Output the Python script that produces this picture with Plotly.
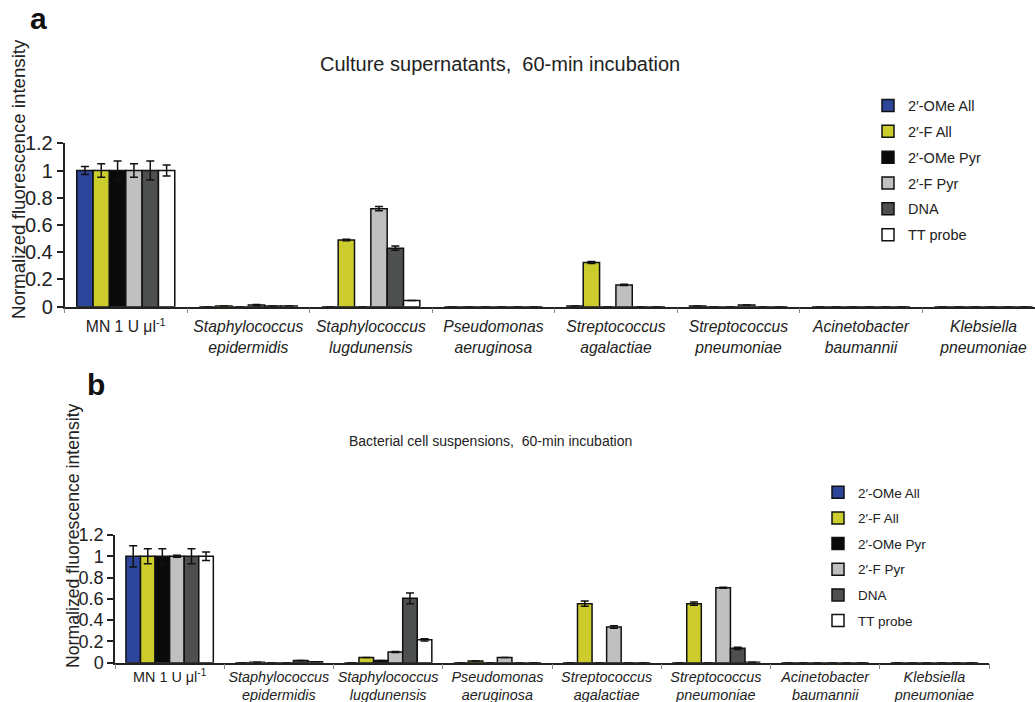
import plotly.graph_objects as go

categories = [
    "MN 1 U μl<sup>-1</sup>",
    "<i>Staphylococcus</i><br><i>epidermidis</i>",
    "<i>Staphylococcus</i><br><i>lugdunensis</i>",
    "<i>Pseudomonas</i><br><i>aeruginosa</i>",
    "<i>Streptococcus</i><br><i>agalactiae</i>",
    "<i>Streptococcus</i><br><i>pneumoniae</i>",
    "<i>Acinetobacter</i><br><i>baumannii</i>",
    "<i>Klebsiella</i><br><i>pneumoniae</i>",
]
series_names = ["2′-OMe All", "2′-F All", "2′-OMe Pyr", "2′-F Pyr", "DNA", "TT probe"]
series_colors = ["#2E459C", "#CCCC2C", "#0A0A0A", "#C0C0C0", "#4E504F", "#FFFFFF"]

# Panel a: culture supernatants
a_ome_all = [1.0, 0.0, 0.0, 0.0, 0.005, 0.005, 0.0, 0.0]
a_f_all = [1.0, 0.005, 0.49, 0.0, 0.325, 0.0, 0.0, 0.0]
a_ome_pyr = [1.0, 0.0, 0.0, 0.0, 0.0, 0.0, 0.0, 0.0]
a_f_pyr = [1.0, 0.012, 0.72, 0.0, 0.16, 0.012, 0.0, 0.0]
a_dna = [1.0, 0.005, 0.43, 0.0, 0.0, 0.0, 0.0, 0.0]
a_tt = [1.0, 0.005, 0.045, 0.0, 0.0, 0.0, 0.0, 0.0]
a_ome_all_err = [0.03, 0, 0, 0, 0, 0, 0, 0]
a_f_all_err = [0.05, 0, 0.005, 0, 0.007, 0, 0, 0]
a_ome_pyr_err = [0.07, 0, 0, 0, 0, 0, 0, 0]
a_f_pyr_err = [0.05, 0.005, 0.015, 0, 0.005, 0, 0, 0]
a_dna_err = [0.07, 0, 0.015, 0, 0, 0, 0, 0]
a_tt_err = [0.04, 0, 0, 0, 0, 0, 0, 0]

# Panel b: bacterial cell suspensions
b_ome_all = [1.0, 0.0, 0.0, 0.0, 0.0, 0.0, 0.0, 0.0]
b_f_all = [1.0, 0.005, 0.05, 0.015, 0.555, 0.555, 0.0, 0.0]
b_ome_pyr = [1.0, 0.0, 0.02, 0.0, 0.0, 0.0, 0.0, 0.0]
b_f_pyr = [1.0, 0.0, 0.10, 0.05, 0.335, 0.705, 0.0, 0.0]
b_dna = [1.0, 0.02, 0.605, 0.0, 0.0, 0.135, 0.0, 0.0]
b_tt = [1.0, 0.01, 0.215, 0.0, 0.0, 0.005, 0.0, 0.0]
b_ome_all_err = [0.10, 0, 0, 0, 0, 0, 0, 0]
b_f_all_err = [0.07, 0, 0, 0, 0.025, 0.015, 0, 0]
b_ome_pyr_err = [0.07, 0, 0, 0, 0, 0, 0, 0]
b_f_pyr_err = [0.01, 0, 0.005, 0, 0.012, 0.005, 0, 0]
b_dna_err = [0.07, 0, 0.05, 0, 0, 0.01, 0, 0]
b_tt_err = [0.04, 0, 0.01, 0, 0, 0, 0, 0]

panel_a = [a_ome_all, a_f_all, a_ome_pyr, a_f_pyr, a_dna, a_tt]
panel_a_err = [a_ome_all_err, a_f_all_err, a_ome_pyr_err, a_f_pyr_err, a_dna_err, a_tt_err]
panel_b = [b_ome_all, b_f_all, b_ome_pyr, b_f_pyr, b_dna, b_tt]
panel_b_err = [b_ome_all_err, b_f_all_err, b_ome_pyr_err, b_f_pyr_err, b_dna_err, b_tt_err]

y_ticks = [0, 0.2, 0.4, 0.6, 0.8, 1, 1.2]
y_tick_text = ["0", "0.2", "0.4", "0.6", "0.8", "1", "1.2"]
y_title = "Normalized fluorescence intensity"
title_a = "Culture supernatants,  60-min incubation"
title_b = "Bacterial cell suspensions,  60-min incubation"

FONT = "Liberation Sans, Arial, sans-serif"
W, H = 1035, 702

fig = go.Figure()

for i, name in enumerate(series_names):
    fig.add_trace(go.Bar(
        x=categories, y=panel_a[i], name=name,
        marker=dict(color=series_colors[i], line=dict(color="#111111", width=1.5)),
        error_y=dict(type="data", array=panel_a_err[i], color="#111111", thickness=1.5, width=4),
        xaxis="x", yaxis="y", legend="legend", legendgroup="a" + str(i),
    ))
for i, name in enumerate(series_names):
    fig.add_trace(go.Bar(
        x=categories, y=panel_b[i], name=name,
        marker=dict(color=series_colors[i], line=dict(color="#111111", width=1.5)),
        error_y=dict(type="data", array=panel_b_err[i], color="#111111", thickness=1.5, width=4),
        xaxis="x2", yaxis="y2", legend="legend2", legendgroup="b" + str(i),
    ))


def px_x(p):
    return p / W


def px_y(p):
    return 1 - p / H


axis_common = dict(
    showline=True, linecolor="#222222", linewidth=1.5, showgrid=False, zeroline=False,
    automargin=False,
)


def ann(text, x, y, size, bold=False, angle=0):
    return dict(text=("<b>%s</b>" % text) if bold else text, x=px_x(x), y=px_y(y),
                xref="paper", yref="paper", xanchor="center", yanchor="middle",
                showarrow=False, textangle=angle,
                font=dict(family=FONT, size=size, color="#111111" if bold else "#222222"))


fig.update_layout(
    template="none",
    xaxis=dict(
        domain=[px_x(64.5), 1.0], anchor="y", type="category",
        range=[-0.5, 7.42], ticks="outside", ticklen=5, tickcolor="#888888",
        tickson="boundaries", tickangle=0, ticklabelstandoff=5,
        tickfont=dict(family=FONT, size=15.7, color="#222222"),
        **axis_common,
    ),
    yaxis=dict(
        domain=[px_y(306.7), px_y(143.3)], anchor="x", range=[0, 1.2],
        tickvals=y_ticks, ticktext=y_tick_text, ticks="outside", ticklen=6,
        tickcolor="#222222", tickwidth=1.5,
        tickfont=dict(family=FONT, size=20, color="#222222"),
        **axis_common,
    ),
    xaxis2=dict(
        domain=[px_x(115), px_x(989)], anchor="y2", type="category",
        range=[-0.5, 7.5], ticks="outside", ticklen=5, tickcolor="#888888",
        tickson="boundaries", tickangle=0,
        tickfont=dict(family=FONT, size=14.4, color="#222222"),
        **axis_common,
    ),
    yaxis2=dict(
        domain=[px_y(662.7), px_y(535)], anchor="x2", range=[0, 1.2],
        tickvals=y_ticks, ticktext=y_tick_text, ticks="outside", ticklen=6,
        tickcolor="#222222", tickwidth=1.5,
        tickfont=dict(family=FONT, size=18, color="#222222"),
        **axis_common,
    ),
    barmode="group", bargap=0.2, bargroupgap=0.0,
    width=W, height=H,
    margin=dict(l=0, r=0, t=0, b=0, pad=0),
    paper_bgcolor="white", plot_bgcolor="white",
    font=dict(family=FONT, color="#222222"),
    legend=dict(
        x=px_x(868), y=px_y(89.5), xanchor="left", yanchor="top",
        font=dict(family=FONT, size=14.5, color="#222222"),
        tracegroupgap=4, itemwidth=30, bgcolor="rgba(0,0,0,0)",
    ),
    legend2=dict(
        x=px_x(818), y=px_y(477), xanchor="left", yanchor="top",
        font=dict(family=FONT, size=13.5, color="#222222"),
        tracegroupgap=5.1, itemwidth=30, bgcolor="rgba(0,0,0,0)",
    ),
    annotations=[
        ann("a", 38, 18, 30, bold=True),
        ann("b", 96, 384, 30, bold=True),
        ann(title_a, 500, 64, 20),
        ann(title_b, 490, 441, 14),
        ann(y_title, 18, 179, 18.7, angle=-90),
        ann(y_title, 73, 536, 17.7, angle=-90),
    ],
    showlegend=True,
)

fig.write_html("out.html", config={"displayModeBar": False},
               post_script="document.body.style.margin='0px';")
